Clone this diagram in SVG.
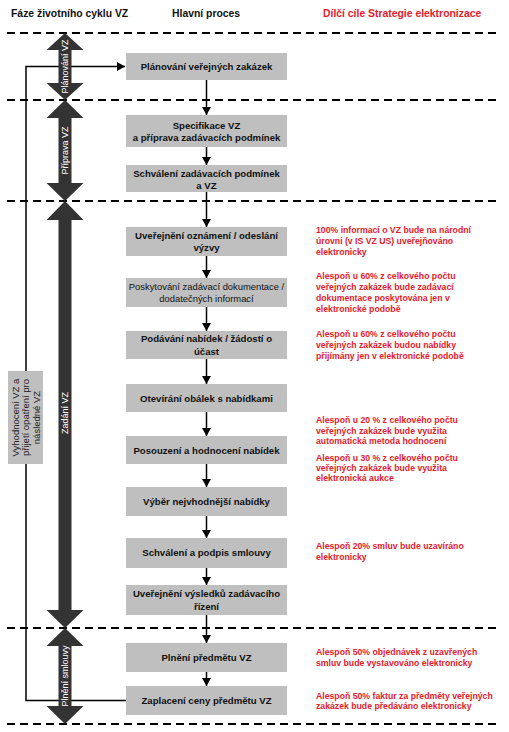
<svg xmlns="http://www.w3.org/2000/svg" width="509" height="732" viewBox="0 0 509 732">
<defs>
<style>
.hdr{font-family:"Liberation Sans",Arial,sans-serif;font-weight:bold;font-size:10.4px;fill:#111}
.hdr-red{font-family:"Liberation Sans",Arial,sans-serif;font-weight:bold;font-size:10.4px;fill:#e5202c}
.dash{stroke:#000;stroke-width:2;stroke-dasharray:8 5;fill:none}
.phase{fill:#333}
.phase-t{font-family:"Liberation Sans",Arial,sans-serif;font-size:9px;fill:#fff;text-anchor:middle}
.box{fill:#bfbfbf}
.bt{font-family:"Liberation Sans",Arial,sans-serif;font-weight:bold;font-size:9.6px;fill:#111;text-anchor:middle}
.btr{font-family:"Liberation Sans",Arial,sans-serif;font-size:9.4px;fill:#111;text-anchor:middle}
.side-t{font-family:"Liberation Sans",Arial,sans-serif;font-size:9.5px;fill:#222;text-anchor:middle}
.goal{font-family:"Liberation Sans",Arial,sans-serif;font-weight:bold;font-size:8.7px;fill:#e5202c}
.conn{stroke:#000;stroke-width:1.5;fill:none}
</style>
<marker id="ah" markerWidth="8" markerHeight="9" refX="8" refY="4.5" orient="auto" markerUnits="userSpaceOnUse">
<path d="M0,0 L8,4.5 L0,9 Z" fill="#000"/>
</marker>
</defs>
<rect width="509" height="732" fill="#fff"/>

<g id="headers">
<text class="hdr" x="11" y="17">Fáze životního cyklu VZ</text>
<text class="hdr" x="172" y="17">Hlavní proces</text>
<text class="hdr-red" x="323" y="17">Dílčí cíle Strategie elektronizace</text>
</g>

<g id="separators">
<line class="dash" x1="7" y1="33" x2="500" y2="33"/>
<line class="dash" x1="7" y1="100" x2="500" y2="100"/>
<line class="dash" x1="7" y1="201" x2="500" y2="201"/>
<line class="dash" x1="7" y1="628" x2="500" y2="628"/>
<line class="dash" x1="7" y1="724" x2="500" y2="724"/>
</g>

<g id="connectors">
<path class="conn" d="M127,700.5 H26 V66.5 H125" marker-end="url(#ah)"/>
<line class="conn" x1="206.5" y1="80" x2="206.5" y2="115" marker-end="url(#ah)"/>
<line class="conn" x1="206.5" y1="147" x2="206.5" y2="165" marker-end="url(#ah)"/>
<line class="conn" x1="206.5" y1="192" x2="206.5" y2="227" marker-end="url(#ah)"/>
<line class="conn" x1="206.5" y1="256" x2="206.5" y2="278" marker-end="url(#ah)"/>
<line class="conn" x1="206.5" y1="307" x2="206.5" y2="331" marker-end="url(#ah)"/>
<line class="conn" x1="206.5" y1="359" x2="206.5" y2="384" marker-end="url(#ah)"/>
<line class="conn" x1="206.5" y1="412" x2="206.5" y2="436" marker-end="url(#ah)"/>
<line class="conn" x1="206.5" y1="464" x2="206.5" y2="487" marker-end="url(#ah)"/>
<line class="conn" x1="206.5" y1="516" x2="206.5" y2="538" marker-end="url(#ah)"/>
<line class="conn" x1="206.5" y1="568" x2="206.5" y2="585" marker-end="url(#ah)"/>
<line class="conn" x1="206.5" y1="615" x2="206.5" y2="643" marker-end="url(#ah)"/>
<line class="conn" x1="206.5" y1="672" x2="206.5" y2="686" marker-end="url(#ah)"/>
</g>

<g id="phase-planovani">
<polygon class="phase" points="65,33 83.5,50 71.5,50 71.5,83 83.5,83 65,100 46.5,83 58.5,83 58.5,50 46.5,50"/>
<text class="phase-t" transform="translate(68.2,66.5) rotate(-90)" x="0" y="0">Plánování VZ</text>
</g>
<g id="phase-priprava">
<polygon class="phase" points="65,100 83.5,118 71.5,118 71.5,183 83.5,183 65,201 46.5,183 58.5,183 58.5,118 46.5,118"/>
<text class="phase-t" transform="translate(68.2,150.5) rotate(-90)" x="0" y="0">Příprava VZ</text>
</g>
<g id="phase-zadani">
<polygon class="phase" points="65,201 83.5,220 71.5,220 71.5,610 83.5,610 65,628 46.5,610 58.5,610 58.5,220 46.5,220"/>
<text class="phase-t" transform="translate(68.2,413) rotate(-90)" x="0" y="0">Zadání VZ</text>
</g>
<g id="phase-plneni">
<polygon class="phase" points="65,628 83.5,646 71.5,646 71.5,706 83.5,706 65,724 46.5,706 58.5,706 58.5,646 46.5,646"/>
<text class="phase-t" transform="translate(68.2,676) rotate(-90)" x="0" y="0">Plnění smlouvy</text>
</g>

<g id="feedback">
<rect class="box" x="8" y="371" width="35" height="93"/>
<g transform="translate(25.5,417.5) rotate(-90)">
<text class="side-t" x="0" y="-7">Vyhodnocení VZ a</text>
<text class="side-t" x="0" y="3.5">přijetí opatření pro</text>
<text class="side-t" x="0" y="14">následné VZ</text>
</g>
</g>

<g id="n1"><rect class="box" x="126" y="53" width="161" height="27"/><text class="bt" x="206.5" y="70">Plánování veřejných zakázek</text></g>
<g id="n2"><rect class="box" x="126" y="115" width="161" height="32"/><text class="bt" x="206.5" y="128.5">Specifikace VZ</text><text class="bt" x="206.5" y="140.5">a příprava zadávacích podmínek</text></g>
<g id="n3"><rect class="box" x="126" y="165" width="161" height="27"/><text class="bt" x="206.5" y="176.5">Schválení zadávacích podmínek</text><text class="bt" x="206.5" y="188.5">a VZ</text></g>
<g id="n4"><rect class="box" x="126" y="227" width="161" height="29"/><text class="bt" x="206.5" y="238.5">Uveřejnění oznámení / odeslání</text><text class="bt" x="206.5" y="250.5">výzvy</text></g>
<g id="n5"><rect class="box" x="126" y="278" width="161" height="29"/><text class="btr" x="206.5" y="290">Poskytování zadávací dokumentace /</text><text class="btr" x="206.5" y="301.5">dodatečných informací</text></g>
<g id="n6"><rect class="box" x="126" y="331" width="161" height="28"/><text class="bt" x="206.5" y="341.5">Podávání nabídek / žádostí o</text><text class="bt" x="206.5" y="354.5">účast</text></g>
<g id="n7"><rect class="box" x="126" y="384" width="161" height="28"/><text class="bt" x="206.5" y="401.5">Otevírání obálek s nabídkami</text></g>
<g id="n8"><rect class="box" x="126" y="436" width="161" height="28"/><text class="bt" x="206.5" y="453.5">Posouzení a hodnocení nabídek</text></g>
<g id="n9"><rect class="box" x="126" y="487" width="161" height="29"/><text class="bt" x="206.5" y="505">Výběr nejvhodnější nabídky</text></g>
<g id="n10"><rect class="box" x="126" y="538" width="161" height="30"/><text class="bt" x="206.5" y="556">Schválení a podpis smlouvy</text></g>
<g id="n11"><rect class="box" x="126" y="585" width="161" height="30"/><text class="bt" x="206.5" y="596.5">Uveřejnění výsledků zadávacího</text><text class="bt" x="206.5" y="609.5">řízení</text></g>
<g id="n12"><rect class="box" x="126" y="643" width="161" height="29"/><text class="bt" x="206.5" y="661">Plnění předmětu VZ</text></g>
<g id="n13"><rect class="box" x="126" y="686" width="161" height="29"/><text class="bt" x="206.5" y="704">Zaplacení ceny předmětu VZ</text></g>

<g id="goals">
<text class="goal" x="316" y="233">100% informací o VZ bude na národní</text>
<text class="goal" x="316" y="244">úrovni (v IS VZ US) uveřejňováno</text>
<text class="goal" x="316" y="255">elektronicky</text>
<text class="goal" x="316" y="279">Alespoň u 60% z celkového počtu</text>
<text class="goal" x="316" y="290">veřejných zakázek bude zadávací</text>
<text class="goal" x="316" y="301">dokumentace poskytována jen v</text>
<text class="goal" x="316" y="312">elektronické podobě</text>
<text class="goal" x="316" y="337">Alespoň u 60% z celkového počtu</text>
<text class="goal" x="316" y="348">veřejných zakázek budou nabídky</text>
<text class="goal" x="316" y="359">přijímány jen v elektronické podobě</text>
<text class="goal" x="316" y="423">Alespoň u 20 % z celkového počtu</text>
<text class="goal" x="316" y="434">veřejných zakázek bude využita</text>
<text class="goal" x="316" y="444">automatická metoda hodnocení</text>
<text class="goal" x="316" y="461">Alespoň u 30 % z celkového počtu</text>
<text class="goal" x="316" y="471">veřejných zakázek bude využita</text>
<text class="goal" x="316" y="481">elektronická aukce</text>
<text class="goal" x="316" y="549">Alespoň 20% smluv bude uzavíráno</text>
<text class="goal" x="316" y="560">elektronicky</text>
<text class="goal" x="316" y="655">Alespoň 50% objednávek z uzavřených</text>
<text class="goal" x="316" y="666">smluv bude vystavováno elektronicky</text>
<text class="goal" x="316" y="699">Alespoň 50% faktur za předměty veřejných</text>
<text class="goal" x="316" y="709">zakázek bude předáváno elektronicky</text>
</g>
</svg>
